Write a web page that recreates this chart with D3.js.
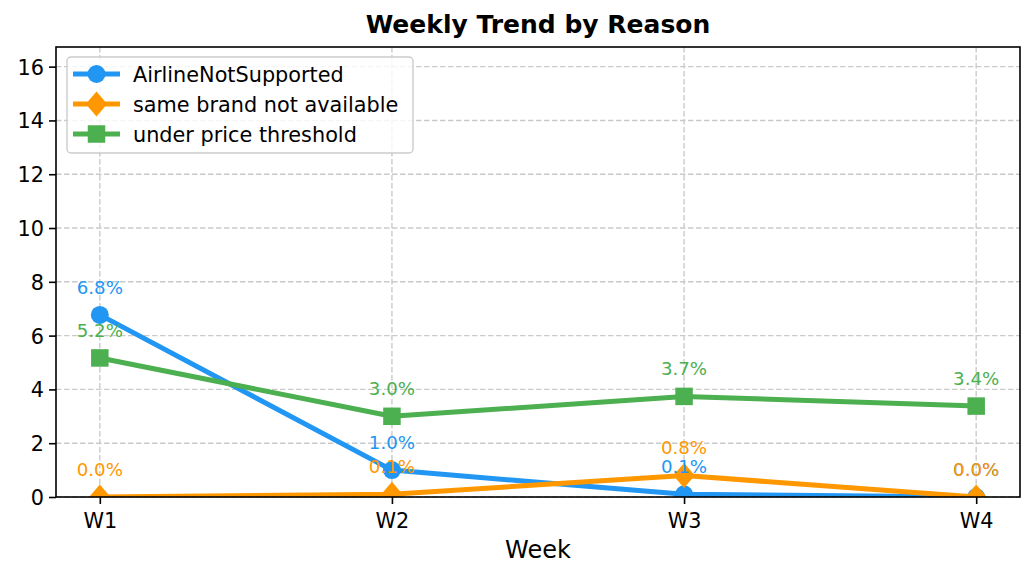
<!DOCTYPE html>
<html>
<head>
<meta charset="utf-8">
<script src="https://cdn.jsdelivr.net/npm/d3@7/dist/d3.min.js"></script>
<style>
  html, body { margin: 0; padding: 0; background: #fff; }
  svg { display: block; font-family: "DejaVu Sans", sans-serif; }
</style>
</head>
<body>
<svg id="chart" width="1035" height="579"></svg>
<script>
const weeks = ["W1", "W2", "W3", "W4"];
const seriesNames = ["AirlineNotSupported", "same brand not available", "under price threshold"];
const airlineNotSupported = [6.77, 1.0, 0.1, 0.0];
const sameBrandNotAvailable = [0.0, 0.1, 0.8, 0.0];
const underPriceThreshold = [5.17, 3.0, 3.74, 3.38];
const yTicks = [0, 2, 4, 6, 8, 10, 12, 14, 16];
const seriesColors = ["#2196F3", "#FF9800", "#4CAF50"];
const seriesMarkers = ["circle", "diamond", "square"];

const series = [airlineNotSupported, sameBrandNotAvailable, underPriceThreshold].map((vals, i) => ({
  name: seriesNames[i], values: vals, color: seriesColors[i], marker: seriesMarkers[i]
}));

const svg = d3.select("#chart");
const mLeft = 56, mRight = 1020, mTop = 47, mBottom = 497;

const x = d3.scaleLinear().domain([-0.15, weeks.length - 1 + 0.15]).range([mLeft, mRight]);
const y = d3.scaleLinear().domain([0, 16.73]).range([mBottom, mTop]);

// grid
const grid = svg.append("g");
grid.selectAll(null).data(weeks).enter().append("line")
  .attr("x1", (d, i) => x(i)).attr("x2", (d, i) => x(i))
  .attr("y1", mTop).attr("y2", mBottom)
  .attr("stroke", "#cacaca").attr("stroke-width", 1.4).attr("stroke-dasharray", "5.5,2.5");
grid.selectAll(null).data(yTicks).enter().append("line")
  .attr("x1", mLeft).attr("x2", mRight)
  .attr("y1", d => y(d)).attr("y2", d => y(d))
  .attr("stroke", "#cacaca").attr("stroke-width", 1.4).attr("stroke-dasharray", "5.5,2.5");

// clip for data
svg.append("clipPath").attr("id", "clip").append("rect")
  .attr("x", mLeft).attr("y", mTop).attr("width", mRight - mLeft).attr("height", mBottom - mTop);

function markerPath(type, size) {
  if (type === "circle") return d3.symbol(d3.symbolCircle, Math.PI * (size / 2) ** 2)();
  if (type === "square") return d3.symbol(d3.symbolSquare, size * size)();
  const h = size * 0.72;
  return `M0,${-h}L${h * 0.85},0L0,${h}L${-h * 0.85},0Z`;
}

const lineGen = d3.line().x((d, i) => x(i)).y(d => y(d));
const plot = svg.append("g").attr("clip-path", "url(#clip)");
series.forEach(s => {
  plot.append("path").datum(s.values)
    .attr("d", lineGen).attr("fill", "none")
    .attr("stroke", s.color).attr("stroke-width", 5).attr("stroke-linejoin", "round").attr("stroke-linecap", "butt");
  plot.selectAll(null).data(s.values).enter().append("path")
    .attr("d", markerPath(s.marker, s.marker === "circle" ? 18 : 17.5))
    .attr("transform", (d, i) => `translate(${x(i)},${y(d)})`)
    .attr("fill", s.color);
});

// data labels
series.forEach(s => {
  svg.selectAll(null).data(s.values).enter().append("text")
    .attr("x", (d, i) => x(i)).attr("y", d => y(d) - 21)
    .attr("text-anchor", "middle").attr("font-size", 18.2)
    .attr("fill", s.color)
    .text(d => d.toFixed(1) + "%");
});

// spines
svg.append("rect").attr("x", mLeft).attr("y", mTop).attr("width", mRight - mLeft).attr("height", mBottom - mTop)
  .attr("fill", "none").attr("stroke", "#000").attr("stroke-width", 1.6);

// axes
const xAxis = d3.axisBottom(x).tickValues(d3.range(weeks.length)).tickFormat(i => weeks[i])
  .tickSizeInner(7).tickSizeOuter(0).tickPadding(6);
const gx = svg.append("g").attr("transform", `translate(0,${mBottom})`).call(xAxis);
gx.select(".domain").remove();
gx.selectAll(".tick line").attr("stroke", "#000").attr("stroke-width", 1.6);
gx.selectAll(".tick text").attr("font-size", 20.8).attr("fill", "#000")
  .attr("font-family", "DejaVu Sans").attr("dy", null).attr("y", 31);

const yAxis = d3.axisLeft(y).tickValues(yTicks).tickSizeInner(7).tickSizeOuter(0).tickPadding(6);
const gy = svg.append("g").attr("transform", `translate(${mLeft},0)`).call(yAxis);
gy.select(".domain").remove();
gy.selectAll(".tick line").attr("stroke", "#000").attr("stroke-width", 1.6);
gy.selectAll(".tick text").attr("font-size", 20.8).attr("fill", "#000")
  .attr("font-family", "DejaVu Sans").attr("dy", "0.36em").attr("x", -12);

// title and label
svg.append("text").attr("x", (mLeft + mRight) / 2).attr("y", 33).attr("text-anchor", "middle")
  .attr("font-size", 25).attr("font-weight", "bold").text("Weekly Trend by Reason");
svg.append("text").attr("x", (mLeft + mRight) / 2).attr("y", 558).attr("text-anchor", "middle")
  .attr("font-size", 24).text("Week");

// legend
const lg = svg.append("g");
lg.append("rect").attr("x", 67).attr("y", 57).attr("width", 346).attr("height", 96).attr("rx", 4)
  .attr("fill", "#fff").attr("fill-opacity", 0.8).attr("stroke", "#cccccc").attr("stroke-width", 1.4);
series.forEach((s, i) => {
  const cy = 74 + i * 30;
  lg.append("line").attr("x1", 73).attr("x2", 120).attr("y1", cy).attr("y2", cy)
    .attr("stroke", s.color).attr("stroke-width", 5);
  lg.append("path").attr("d", markerPath(s.marker, s.marker === "circle" ? 18 : 17.5))
    .attr("transform", `translate(96.5,${cy})`).attr("fill", s.color);
  lg.append("text").attr("x", 133).attr("y", cy + 7.5).attr("font-size", 20.8).text(s.name);
});
</script>
</body>
</html>
